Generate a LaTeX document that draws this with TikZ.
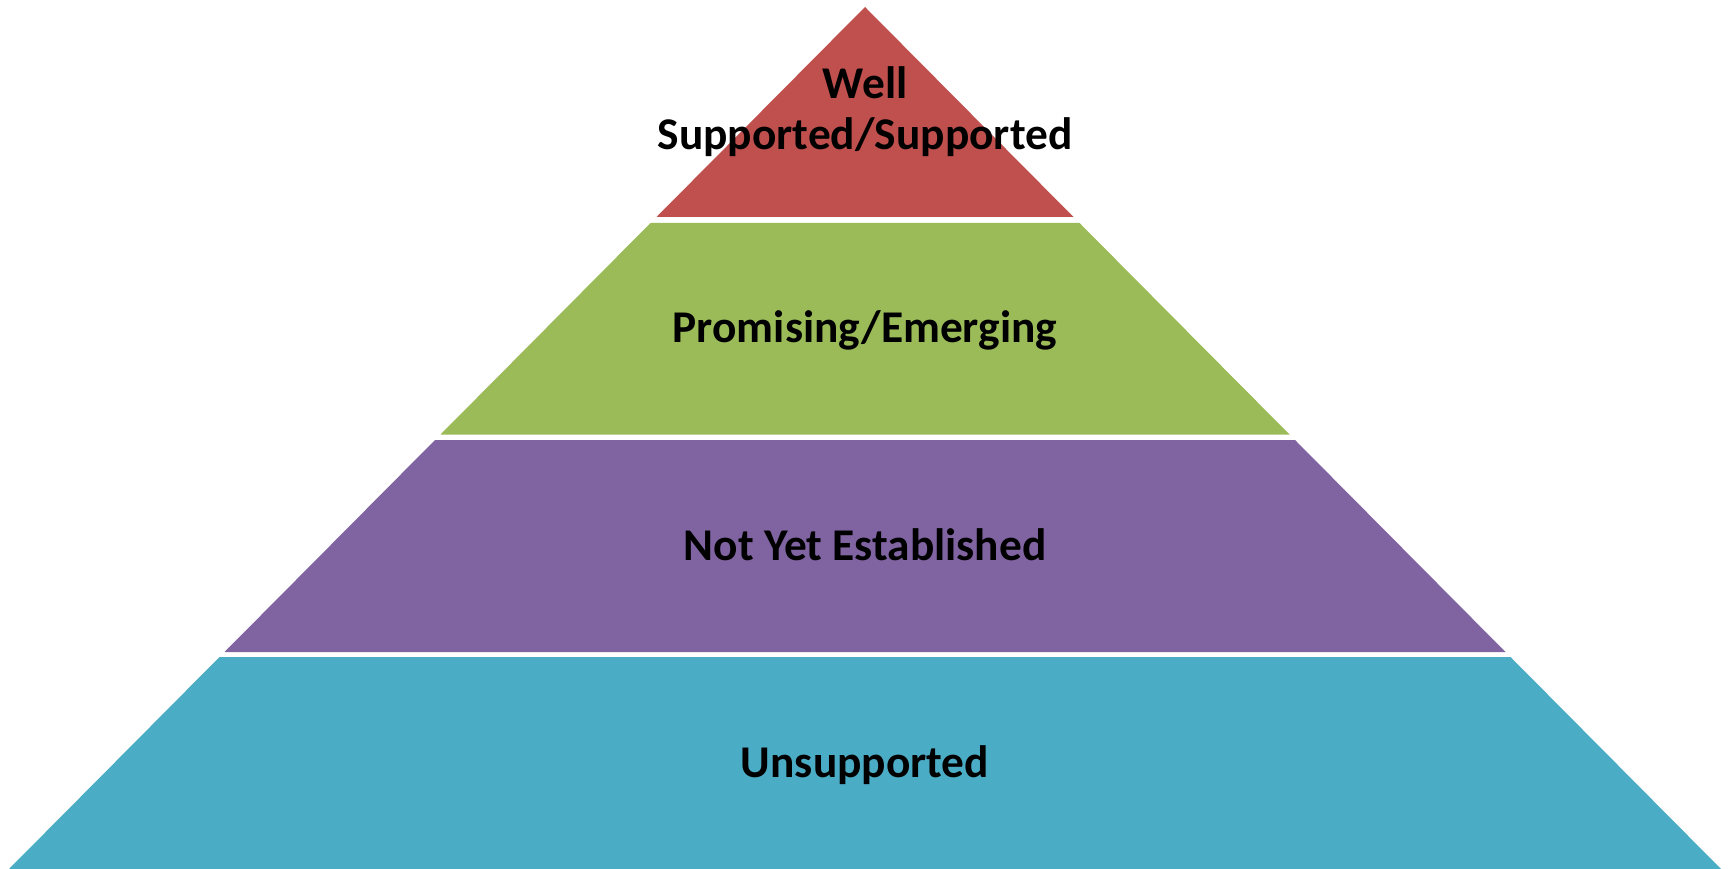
\documentclass[tikz,border=0pt]{standalone}
\usepackage{fontspec}
\setmainfont{Carlito}
\definecolor{tierRed}{HTML}{C0504D}
\definecolor{tierGreen}{HTML}{9BBB59}
\definecolor{tierPurple}{HTML}{8064A2}
\definecolor{tierCyan}{HTML}{4BACC6}
\begin{document}
\begin{tikzpicture}[x=1pt,y=-1pt,
  band/.style={draw=none},
  lbl/.style={anchor=base,inner sep=0pt,align=center,font=\fontsize{45.4}{52}\selectfont\bfseries,text=black}]
\useasboundingbox (0,0) rectangle (1729,869);
% left edge: x = 865 - (y-7)*0.993 ; right edge symmetric
\fill[tierRed]    (865,7) -- (1073.5,217) -- (656.5,217) -- cycle;
\fill[tierGreen]  (650.5,223) -- (1079.5,223) -- (1289.5,434.5) -- (440.5,434.5) -- cycle;
\fill[tierPurple] (435,440) -- (1295,440) -- (1505.5,652) -- (224.5,652) -- cycle;
\fill[tierCyan]   (219.5,657) -- (1510.5,657) -- (1721,869) -- (9,869) -- cycle;
\node[lbl] (t1a) at (865,98.5) {Well};
\node[lbl] (t1b) at (865,150) {Supported/Supported};
\node[lbl] (t2) at (865,342.5) {Promising/Emerging};
\node[lbl] (t3) at (865,560) {Not Yet Established};
\node[lbl] (t4) at (865,777) {Unsupported};
\end{tikzpicture}
\end{document}
